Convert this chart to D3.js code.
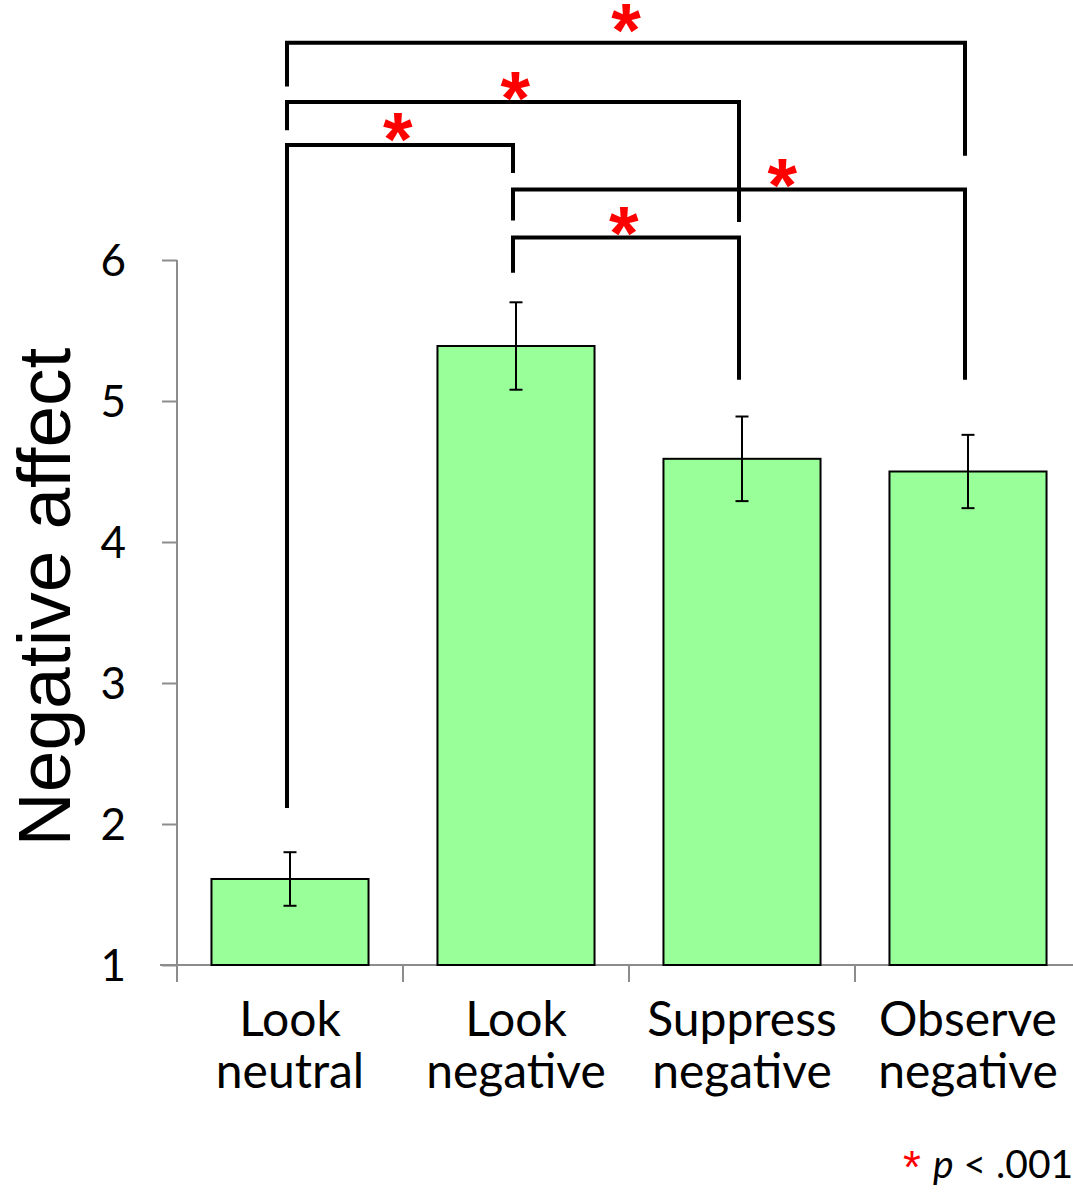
<!DOCTYPE html>
<html><head><meta charset="utf-8">
<script src="https://cdn.jsdelivr.net/npm/d3@7"></script>
<style>
html,body{margin:0;padding:0;background:#fff;}
svg{display:block;}
</style></head>
<body>
<svg id="chart" width="1073" height="1194"></svg>
<script>
// ---- data ----
const categories = [["Look","neutral"],["Look","negative"],["Suppress","negative"],["Observe","negative"]];
const means = [1.61, 5.39, 4.59, 4.50];
const errors = [0.19, 0.31, 0.30, 0.26];
const yTicks = [1, 2, 3, 4, 5, 6];
const yLabel = "Negative affect";
// comparisons: from index, to index, bracket level, left leg end, right leg end (all in y units)
const compFrom  = [0, 0, 0, 1, 1];
const compTo    = [1, 2, 3, 3, 2];
const compLevel = [6.816, 7.12, 7.54, 6.50, 6.16];
const compLeftEnd  = [2.113, 6.92, 7.23, 6.28, 5.91];
const compRightEnd = [6.617, 6.27, 6.74, 5.15, 5.15];
const compStarAt   = [0.49, 0.505, 0.5, 0.596, 0.49];
const compStarLift = [0.11, 0.10, 0.16, 0.105, 0.105];
const noteText = "p < .001";

// ---- layout ----
const svg = d3.select("#chart");
const x = d3.scaleBand().domain(d3.range(categories.length)).range([177, 1081]).paddingInner(0.305).paddingOuter(0.1525);
const y = d3.scaleLinear().domain([1, 6]).range([965, 260]);
const cx = i => x(i) + x.bandwidth() / 2;

const axisColor = "#8c8c8c";
const calibri = "Lato, 'Open Sans', sans-serif";
const arial = "'Liberation Sans', Arial, sans-serif";

// y axis
const yAxis = svg.append("g").attr("transform", "translate(177,0)")
  .call(d3.axisLeft(y).tickValues(yTicks).tickSize(15).tickPadding(36).tickFormat(d3.format("d")));
yAxis.select(".domain").attr("stroke", axisColor).attr("stroke-width", 2)
  .attr("d", `M0,${y(6)}V${y(1) + 17}`);
yAxis.selectAll(".tick line").attr("stroke", axisColor).attr("stroke-width", 2);
yAxis.selectAll(".tick text").attr("font-family", calibri).attr("font-size", 44).attr("fill", "#000").attr("dy", "0.36em");

// x axis
const xg = svg.append("g");
xg.append("line").attr("x1", 160).attr("x2", 1073).attr("y1", y(1)).attr("y2", y(1))
  .attr("stroke", axisColor).attr("stroke-width", 2);
d3.range(categories.length).forEach(i => {
  const tx = x(i) - x.step() * x.paddingInner() / 2;
  if (i > 0) xg.append("line").attr("x1", tx).attr("x2", tx).attr("y1", y(1)).attr("y2", y(1) + 17)
    .attr("stroke", axisColor).attr("stroke-width", 2);
});

// bars
svg.append("g").selectAll("rect").data(means).join("rect")
  .attr("x", (d, i) => x(i)).attr("width", x.bandwidth())
  .attr("y", d => y(d)).attr("height", d => y(1) - y(d))
  .attr("fill", "#99ff99").attr("stroke", "#000").attr("stroke-width", 2);

// error bars
const eb = svg.append("g").attr("stroke", "#000").attr("stroke-width", 2);
means.forEach((m, i) => {
  const c = cx(i);
  eb.append("line").attr("x1", c).attr("x2", c).attr("y1", y(m + errors[i])).attr("y2", y(m - errors[i]));
  eb.append("line").attr("x1", c - 6.5).attr("x2", c + 6.5).attr("y1", y(m + errors[i])).attr("y2", y(m + errors[i]));
  eb.append("line").attr("x1", c - 6.5).attr("x2", c + 6.5).attr("y1", y(m - errors[i])).attr("y2", y(m - errors[i]));
});

// category labels
const cl = svg.append("g").attr("font-family", calibri).attr("font-size", 48).attr("text-anchor", "middle").attr("fill", "#000");
categories.forEach((lines, i) => {
  const t = cl.append("text").attr("x", cx(i)).attr("y", 1036);
  lines.forEach((ln, k) => t.append("tspan").attr("x", cx(i)).attr("dy", k === 0 ? 0 : 52).text(ln));
});

// y label
svg.append("text").attr("transform", `translate(70,597) rotate(-90)`)
  .attr("text-anchor", "middle").attr("font-family", arial).attr("font-size", 75).attr("fill", "#000")
  .text(yLabel);

// brackets
const br = svg.append("g");
compFrom.forEach((f, k) => {
  const x1 = cx(f) - 3, x2 = cx(compTo[k]) - 3;
  const ly = y(compLevel[k]);
  br.append("path")
    .attr("d", `M${x1},${y(compLeftEnd[k])}V${ly}H${x2}V${y(compRightEnd[k])}`)
    .attr("fill", "none").attr("stroke", "#000").attr("stroke-width", 4).attr("stroke-linejoin", "miter");
  br.append("text").attr("x", x1 + (x2 - x1) * compStarAt[k]).attr("y", y(compLevel[k] + compStarLift[k]) + 36)
    .attr("text-anchor", "middle").attr("font-family", arial).attr("font-weight", "bold")
    .attr("font-size", 76).attr("fill", "#ff0000").text("*");
});

// note
const note = svg.append("text").attr("x", 903).attr("y", 1178).attr("font-family", calibri).attr("font-size", 39).attr("fill", "#000");
note.append("tspan").attr("fill", "#ff0000").attr("font-family", arial).attr("font-size", 46).attr("dy", 5).text("*");
note.append("tspan").attr("dy", -5).attr("dx", 12).attr("font-style", "italic").text(noteText.slice(0, 1));
note.append("tspan").text(noteText.slice(1));
</script>
</body></html>
